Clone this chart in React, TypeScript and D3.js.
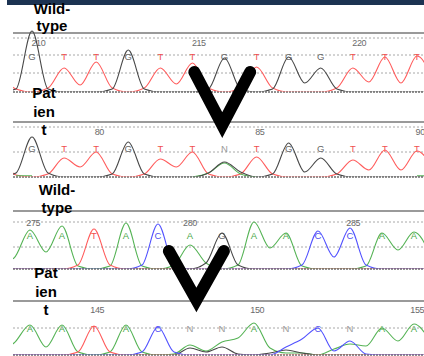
import * as d3 from "d3";

// trace samples every half base, starting one base before base 0
const START = -1;
const STEP = 0.5;

// panel 1: wild-type (G/T region)
const wt1Bases = ["G", "T", "T", "G", "T", "T", "G", "T", "G", "G", "T", "T", "T"];
const wt1G = [0, 3, 61, 3, 0, 0, 0, 3, 42, 3, 0, 0, 0, 3, 34, 3, 0, 3, 35, 9, 24, 3, 0, 0, 0, 0, 0, 0];
const wt1T = [18, 3, 0, 4, 24, 7, 30, 4, 0, 4, 24, 8, 29, 4, 0, 4, 25, 4, 0, 0, 0, 4, 24, 10, 35, 9, 36, 12];
const wt1Ticks = ["210", "215", "220"];
const wt1TickAt = [0.2, 5.2, 10.2];

// panel 2: patient (G/T region)
const pt1Bases = ["G", "T", "T", "G", "T", "T", "N", "T", "G", "G", "T", "T", "T"];
const pt1G = [0, 4, 40, 4, 0, 0, 0, 3, 35, 3, 0, 0, 0, 4, 15, 5, 0, 3, 34, 5, 19, 3, 0, 0, 0, 0, 0, 0];
const pt1T = [25, 2, 0, 3, 19, 10, 25, 3, 0, 3, 18, 10, 25, 3, 0, 3, 20, 3, 0, 0, 0, 3, 17, 7, 27, 7, 26, 8];
const pt1A = [null, 1.2, 1.2, null, null, null, null, null, null, null, null, null, 0, 4, 14, 3, 0, null, null, null, null, null, null, null, null, null, 1.2, 1.2];
const pt1Ticks = ["80", "85", "90"];
const pt1TickAt = [2.1, 7.1, 12.1];

// panel 3: wild-type (A/C region)
const wt2Bases = ["A", "A", "T", "A", "C", "A", "G", "A", "A", "C", "C", "A", "A"];
const wt2A = [5, 11, 39, 17, 43, 3, 0, 3, 46, 3, 0, 4, 24, 6, 0, 4, 47, 21, 36, 3, 0, 0, 0, 3, 36, 19, 37, 15];
const wt2T = [0, 0, 0, 0, 0, 4, 40, 4, 0, 0, 0, 0, 0, 0, 0, 0, 0, 0, 0, 0, 0, 0, 0, 0, 0, 0, 0, 0];
const wt2C = [0, 0, 0, 0, 0, 0, 0, 0, 0, 4, 45, 4, 0, 0, 0, 0, 0, 0, 0, 4, 38, 12, 41, 4, 0, 0, 0, 0];
const wt2G = [0, 0, 0, 0, 0, 0, 0, 0, 0, 0, 0, 0, 0, 6, 36, 4, 0, 0, 0, 0, 0, 0, 0, 0, 0, 0, 0, 0];
const wt2Ticks = ["275", "280", "285"];
const wt2TickAt = [0.1, 5.0, 10.1];

// panel 4: patient (A/C region)
const pt2Bases = ["A", "A", "T", "A", "C", "N", "N", "A", "N", "C", "N", "A", "A"];
const pt2A = [5, 12, 30, 8, 30, 3, 0, 3, 30, 3, 0, 1, 10, 4, 13, 17, 32, 7, 2, 2, 0, 6, 11, 9, 27, 14, 31, 14];
const pt2T = [0, 0, 0, 0, 0, 3, 29, 3, 0, 0, 0, 0, 0, 0, 0, 0, 0, 0, 0, 0, 0, 0, 0, 0, 0, 0, 0, 0];
const pt2C = [0, 0, 0, 0, 0, 0, 0, 0, 0, 3, 28, 3, 0, 0, 0, 0, 0, 0, 8, 16, 27, 4, 14, 1, 0, 0, 0, 0];
const pt2G = [0, 0, 0, 0, 0, 0, 0, 0, 0, 0, 0, 0, 7, 3, 8, 1, 0, 2, 5, 2, 0, 0, 0, 0, 0, 0, 0, 0];
const pt2Ticks = ["145", "150", "155"];
const pt2TickAt = [2.1, 7.1, 12.1];

const traceColor: Record<string, string> = {
  G: "#484848",
  T: "#ff5c5c",
  A: "#55b355",
  C: "#5252ff",
};
const letterColor: Record<string, string> = {
  G: "#666",
  T: "#f05050",
  A: "#4aa84a",
  C: "#5050ee",
  N: "#9a9a9a",
};

const W = 424;
const H = 356;

const panels = [
  {
    id: "p1", x0: 32, x1: 417, solid: 33, dotted: [38, 55, 73], base: 92, letterY: 56, tickY: 42,
    bases: wt1Bases, ticks: wt1Ticks, tickAt: wt1TickAt,
    traces: [{ ch: "T", v: wt1T }, { ch: "G", v: wt1G }],
  },
  {
    id: "p2", x0: 32, x1: 417, solid: 122, dotted: [127, 152], base: 177, letterY: 148, tickY: 131,
    bases: pt1Bases, ticks: pt1Ticks, tickAt: pt1TickAt,
    traces: [{ ch: "T", v: pt1T }, { ch: "A", v: pt1A }, { ch: "G", v: pt1G }],
  },
  {
    id: "p3", x0: 30, x1: 414, solid: 211, dotted: [222, 247], base: 269, letterY: 235, tickY: 222,
    bases: wt2Bases, ticks: wt2Ticks, tickAt: wt2TickAt,
    traces: [{ ch: "A", v: wt2A }, { ch: "T", v: wt2T }, { ch: "C", v: wt2C }, { ch: "G", v: wt2G }],
  },
  {
    id: "p4", x0: 30, x1: 414, solid: 301, dotted: [328], base: 355, letterY: 328, tickY: 309,
    bases: pt2Bases, ticks: pt2Ticks, tickAt: pt2TickAt,
    traces: [{ ch: "A", v: pt2A }, { ch: "T", v: pt2T }, { ch: "G", v: pt2G }, { ch: "C", v: pt2C }],
  },
];

const labels = [
  { lines: ["Wild-", "type"], x: 52, y: 14, dy: 17 },
  { lines: ["Pat", "ien", "t"], x: 44, y: 98, dy: 18.5 },
  { lines: ["Wild-", "type"], x: 57, y: 195, dy: 18 },
  { lines: ["Pat", "ien", "t"], x: 46, y: 278, dy: 18.5 },
];

// arrows point at the changed base
const arrows = [
  { panel: 0, at: 5.93, top: 72, tip: 125, spread: 0.87 },
  { panel: 2, at: 5.2, top: 251, tip: 300, spread: 0.86 },
];

export default function App() {
  const font = "'Liberation Sans', Arial, sans-serif";
  return (
    <svg width={W} height={H} style={{ position: "absolute", left: 0, top: 0, background: "#fff" }}>
      <rect x={7} y={0} width={W - 7} height={5} fill="#1c3352" />
      <defs>
        {panels.map((p) => (
          <clipPath id={`clip-${p.id}`} key={p.id}>
            <rect x={13} y={p.solid - 4} width={W - 13} height={p.base - 0.6 - (p.solid - 4)} />
          </clipPath>
        ))}
      </defs>
      {panels.map((p) => {
        const x = d3.scaleLinear().domain([0, 12]).range([p.x0, p.x1]);
        const y = d3.scaleLinear().domain([0, 60]).range([p.base, p.base - 60]);
        const line = d3
          .line<number | null>()
          .defined((d) => d != null)
          .x((_, k) => x(START + k * STEP))
          .y((d) => y(d as number))
          .curve(d3.curveMonotoneX);
        return (
          <g key={p.id}>
            <line x1={13} x2={W} y1={p.solid} y2={p.solid} stroke="#9a9a9a" strokeWidth={2} />
            {p.dotted.map((dy) => (
              <line key={dy} x1={13} x2={W} y1={dy} y2={dy} stroke="#a8a8a8" strokeWidth={1} strokeDasharray="2,2" />
            ))}
            <line x1={13} x2={W} y1={p.base} y2={p.base} stroke="#6e6e6e" strokeWidth={1.4} strokeDasharray="2,1" />
            {p.ticks.map((t, k) => (
              <text key={t} x={x(p.tickAt[k])} y={p.tickY + 3.5} fontSize={9} fill="#6a6a6a" textAnchor="middle" fontFamily={font} letterSpacing={-0.4}>
                {t}
              </text>
            ))}
            {p.bases.map((b, k) => (
              <text key={k} x={x(k)} y={p.letterY + 3.5} fontSize={9.5} fill={letterColor[b]} textAnchor="middle" fontFamily={font}>
                {b}
              </text>
            ))}
            <g clipPath={`url(#clip-${p.id})`}>
              {p.traces.map((t) => (
                <path key={t.ch} d={line(t.v as (number | null)[]) || ""} fill="none" stroke={traceColor[t.ch]} strokeWidth={1.1} />
              ))}
            </g>
          </g>
        );
      })}
      {labels.map((l, k) => (
        <text key={k} fontFamily={font} fontWeight="bold" fontSize={15} textAnchor="middle" fill="#000">
          {l.lines.map((s, j) => (
            <tspan key={j} x={l.x} y={l.y + j * l.dy}>
              {s}
            </tspan>
          ))}
        </text>
      ))}
      {arrows.map((a, k) => {
        const p = panels[a.panel];
        const x = d3.scaleLinear().domain([0, 12]).range([p.x0, p.x1]);
        const cx = x(a.at);
        const half = ((p.x1 - p.x0) / 12) * a.spread;
        return (
          <path
            key={k}
            d={`M${cx - half},${a.top}L${cx},${a.tip}L${cx + half},${a.top}`}
            fill="none"
            stroke="#000"
            strokeWidth={12}
            strokeLinecap="round"
            strokeLinejoin="miter"
            strokeMiterlimit={10}
          />
        );
      })}
    </svg>
  );
}
